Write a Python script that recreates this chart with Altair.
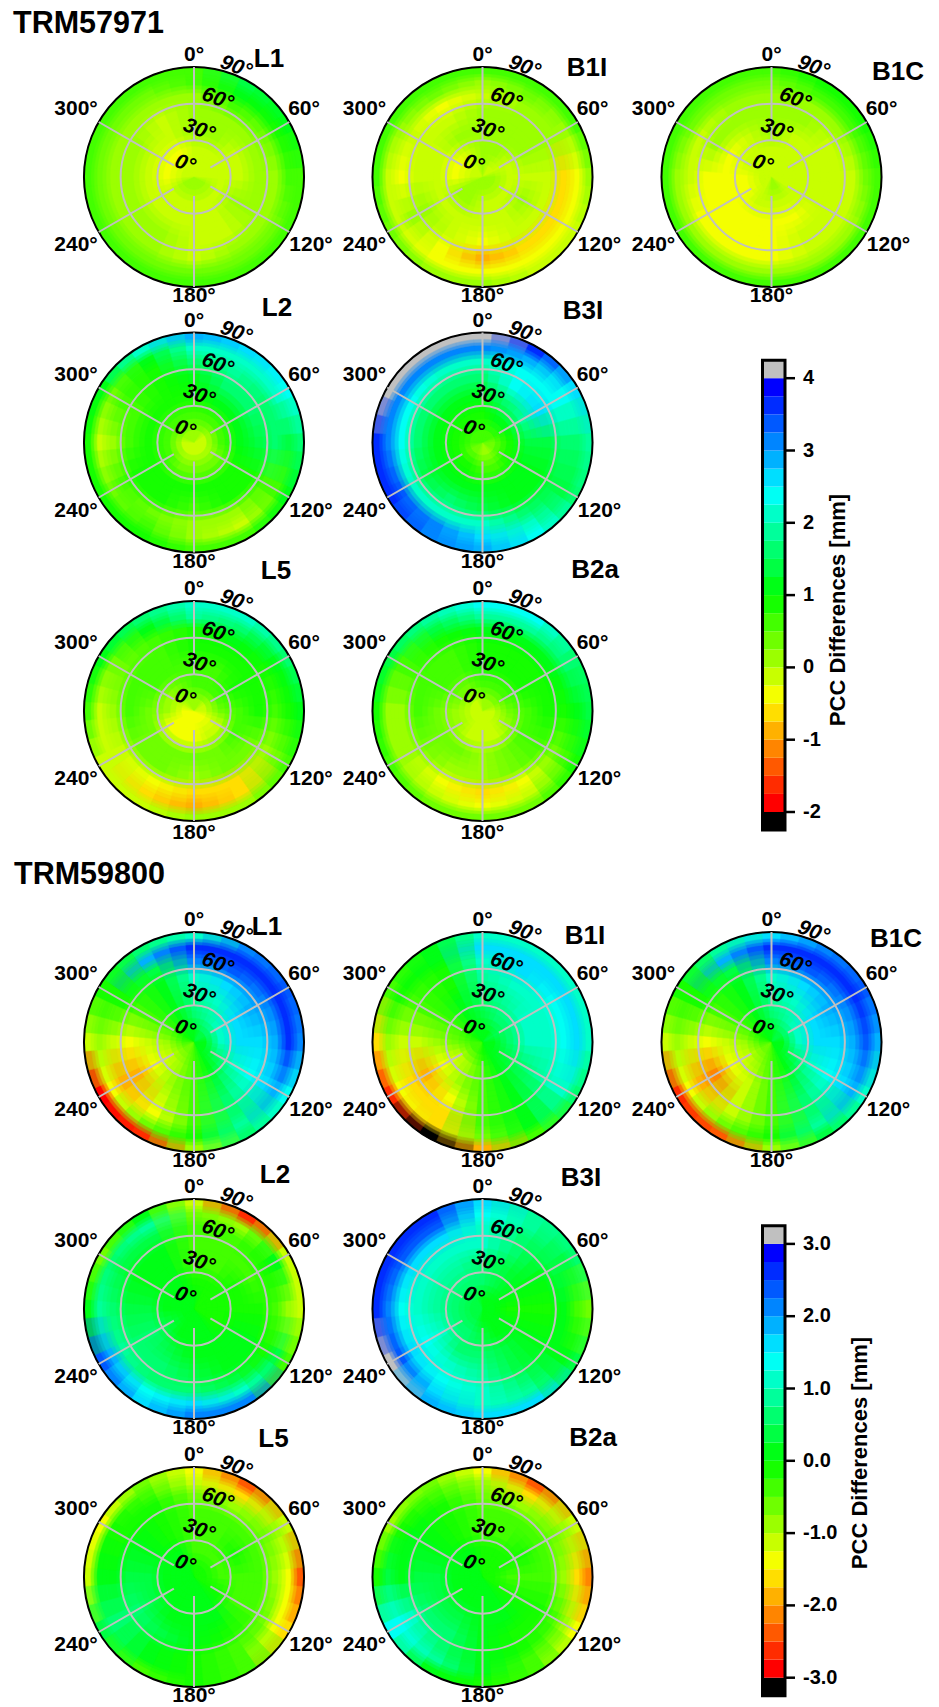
import math
import altair as alt
import pandas as pd

AZ = list(range(0, 360, 30))
RINGS = [0, 15, 30, 45, 60, 72, 82, 90]

A_L1 = [[-.1,-.1,-.1,-.1,.1,.1,.1,.1,.1,-.1,-.1,-.1],
[-.1,-.1,-.1,-.1,-.1,-.1,-.1,-.1,-.1,-.3,-.3,-.3],
[.1,.1,-.1,-.1,.1,-.1,-.1,-.1,-.1,-.1,-.1,-.1],
[.1,.2,.1,.1,.1,-.1,-.1,.1,.1,.1,.1,-.1],
[.2,.5,.3,.2,.2,.1,-.1,.1,.1,.1,.1,.1],
[.5,1.0,.8,.5,.4,.4,.3,.3,.3,.3,.4,.4],
[.7,1.3,1.0,.7,.6,.6,.7,.6,.5,.5,.5,.6]]
A_B1I = [[.1,-.1,-.1,.0,.1,.2,.2,.2,.2,-.1,-.1,-.1],
[.1,.1,-.1,-.1,-.1,-.1,-.1,.1,.1,-.3,-.3,-.1],
[.2,.2,.1,-.1,.0,-.1,-.1,-.1,-.1,-.1,-.1,.1],
[.1,.1,.1,-.2,-.1,-.2,-.3,-.1,.1,-.1,-.1,-.1],
[-.2,.1,.1,-.6,-.7,-.7,-.8,-.5,.1,-.4,-.1,-.3],
[.2,.3,.2,-.5,-.5,-.5,-.5,-.3,-.1,-.2,.2,.3],
[.5,.7,.6,.2,-.1,-.1,0,.2,.4,.5,.7,.7]]
A_B1C = [[-.1,-.1,-.1,-.1,-.1,.1,.1,-.1,-.1,-.1,-.1,-.1],
[-.1,-.1,-.1,-.1,-.1,-.1,-.1,-.1,-.3,-.3,-.1,-.1],
[.1,-.1,-.1,-.1,-.1,-.3,-.3,-.3,-.4,-.4,-.3,-.1],
[.1,.1,-.1,-.1,-.1,-.1,-.3,-.3,-.4,-.3,.1,.1],
[.1,.2,.1,-.1,-.1,-.2,-.3,-.4,-.3,-.2,-.1,.1],
[.3,.5,.5,.3,.2,.1,.1,.1,.1,.2,.3,.4],
[.6,.9,.8,.6,.5,.5,.5,.5,.5,.6,.7,.7]]
A_L2 = [[.1,.1,-.1,-.1,-.1,-.1,-.1,-.1,-.1,-.1,.1,.1],
[.7,.7,.7,.6,.4,.4,.3,.4,.5,.5,.6,.7],
[.9,1.2,1.2,1.0,.9,.8,.8,.8,.9,.8,.8,.9],
[1.1,1.5,1.5,1.4,.9,.8,.7,.8,.8,.7,.7,.8],
[1.5,1.8,1.7,1.5,.7,.0,.1,.4,.5,.0,.5,.8],
[2.2,2.2,2.0,1.4,.6,-.2,.2,.5,.4,-.1,.4,1.2],
[2.9,2.7,2.4,1.6,1.0,.6,.7,.8,.9,.9,1.2,2.0]]
A_B3I = [[.6,.5,.5,.4,.3,.2,.2,.3,.4,.5,.6,.7],
[.9,1.1,1.1,.9,.8,.7,.7,.8,.8,.8,.9,.9],
[1.2,1.7,1.8,1.3,1.0,1.0,1.0,1.0,1.0,1.0,1.1,1.2],
[1.6,2.4,2.6,1.4,1.2,1.2,1.4,1.5,1.4,1.5,1.6,1.6],
[2.1,2.4,2.3,1.5,1.3,1.7,2.0,2.1,2.2,2.3,2.3,2.1],
[3.0,2.8,2.4,1.5,1.4,2.0,2.6,3.0,3.3,3.0,3.1,3.2],
[4.3,3.6,2.7,1.8,1.7,2.4,2.9,3.1,3.5,3.5,4.0,4.3]]
A_L5 = [[.1,.1,-.1,-.1,-.4,-.5,-.5,-.5,-.5,-.3,-.1,.1],
[.5,.5,.6,.4,-.1,-.2,-.4,-.5,-.3,.0,.2,.4],
[.7,.7,.8,.7,.5,.4,.3,.3,.4,.4,.5,.6],
[.8,.8,.8,.8,.4,.3,.1,.3,.4,.5,.6,.7],
[.8,1.0,.9,.7,.0,-.6,-.7,-.5,-.1,.1,.3,.6],
[1.8,1.6,1.2,.8,.3,-.6,-.8,-.6,-.2,-.1,.3,1.2],
[2.0,2.1,1.6,1.0,.7,.2,.0,-.1,-.1,.6,1.2,1.7]]
A_B2A = [[.1,.1,.0,-.1,-.1,-.1,-.1,-.1,-.1,-.1,-.1,-.1],
[.5,.6,.6,.4,.1,-.1,-.1,-.1,.1,.1,.3,.4],
[.8,.8,.9,.7,.5,.3,.2,.3,.3,.4,.5,.6],
[.9,.9,.9,.9,.5,.3,.1,.2,.3,.5,.5,.7],
[1.2,1.2,1.0,.9,.3,-.4,-.6,-.3,.1,.1,.5,.8],
[1.9,1.9,1.5,1.0,.6,-.2,-.4,-.2,.2,.1,.5,1.4],
[2.3,2.3,1.7,1.3,.8,.4,.4,.3,.5,.9,1.4,1.9]]

B_L1 = [[.2,.3,.4,.2,.1,0,-.4,-.6,-.6,-.5,-.2,0],
[.6,.9,1.1,1.0,.6,.2,-.4,-.8,-1.1,-.8,-.4,.1],
[.8,1.2,1.7,1.7,1.1,.4,-.4,-1.0,-1.4,-1.1,-.4,.1],
[1.2,1.6,1.8,1.6,1.4,.6,-.3,-1.2,-2.0,-1.4,-.5,.1],
[2.0,2.4,2.1,1.8,1.6,.7,-.3,-1.3,-2.0,-1.2,-.2,.3],
[2.5,2.7,2.7,2.5,1.9,.9,-.1,-.7,-1.3,-.8,-.1,1.8],
[1.2,2.2,2.4,2.0,1.3,.5,-.9,-2.6,-2.9,-1.2,-.2,.6]]
B_B1I = [[.1,.2,.3,.2,.1,0,-.2,-.4,-.5,-.4,-.2,0],
[.4,.5,.7,.6,.4,.1,-.3,-.8,-1.1,-.7,-.3,.1],
[.6,.8,1.0,1.0,.6,0,-.4,-1.0,-1.4,-.9,-.3,.0],
[.8,1.1,1.2,1.2,.9,0,-.5,-1.4,-1.9,-1.1,-.3,-.1],
[1.2,1.5,1.4,1.4,1.0,.1,-.5,-1.6,-1.7,-1.1,-.3,-.1],
[1.6,1.6,1.5,1.6,1.0,.2,-.7,-1.6,-1.5,-1.0,-.2,.2],
[1.0,1.2,1.2,1.0,.6,-.3,-1.8,-3.2,-2.6,-1.6,-.5,0]]
B_B1C = [[.2,.3,.4,.2,.1,0,-.4,-.6,-.6,-.4,-.2,0],
[.6,.9,1.1,1.1,.6,.2,-.5,-.9,-1.1,-.9,-.5,.1],
[.8,1.2,1.6,1.7,1.2,.4,-.5,-1.1,-1.5,-1.2,-.5,.1],
[1.2,1.6,1.8,1.7,1.4,.6,-.4,-1.2,-2.1,-1.5,-.5,.1],
[2.1,2.3,2.1,1.9,1.7,.7,-.3,-1.2,-2.0,-1.2,-.2,.3],
[2.6,2.6,2.6,2.3,1.8,.8,-.2,-.7,-1.3,-.9,-.1,1.8],
[1.6,2.1,2.3,1.9,1.2,.4,-.9,-2.3,-2.6,-1.1,-.2,.8]]
B_L2 = [[.1,-.1,-.1,-.1,-.1,.1,.1,.1,.1,.1,.1,.1],
[-.2,-.2,-.1,-.1,-.1,.1,.1,.2,.3,.2,.1,.1],
[-.3,-.3,-.2,-.1,.1,.1,.2,.3,.5,.4,.1,.1],
[-.4,-.4,-.3,-.1,.1,.2,.3,.6,.6,.4,.2,.1],
[-.4,-.4,-.2,-.3,-.1,.4,.6,.7,.8,.5,.3,.3],
[-.7,-1.0,.1,-.9,.3,1.0,1.7,1.4,1.9,.8,.6,.8],
[-1.2,-2.6,-1.2,-1.2,-.3,2.0,2.0,1.5,2.3,.2,-.6,.2]]
B_B3I = [[.2,.2,.1,.1,.1,.1,.2,.3,.3,.3,.3,.3],
[.5,.3,.1,-.1,.1,.2,.4,.5,.6,.6,.5,.5],
[.7,.4,.1,-.2,.1,.3,.5,.7,1.0,.9,.8,.8],
[1.0,.5,.2,-.1,.1,.4,.8,1.2,1.4,1.2,1.2,1.1],
[1.2,.7,.3,.1,.1,.6,1.2,1.4,1.7,1.4,1.5,1.6],
[1.4,.9,.4,-.5,.1,.9,1.2,1.7,2.4,2.0,2.3,2.3],
[1.5,.8,.5,-.6,.3,1.7,1.5,1.9,3.1,2.5,2.6,2.7]]
B_L5 = [[-.1,-.1,-.1,-.1,-.1,.1,.1,.1,.1,.1,.1,.1],
[-.3,-.3,-.3,-.3,-.1,.1,.1,.2,.2,.1,.1,.1],
[-.4,-.3,-.2,-.4,-.3,.1,.1,.2,.4,.3,.1,-.1],
[-.5,-.4,-.3,-.4,-.3,-.1,.1,.3,.6,.4,.1,-.1],
[-.6,-.9,-.7,-.8,-.7,-.3,-.1,.2,.7,.2,-.1,-.1],
[-1.1,-1.7,-.8,-1.5,-1.3,-.4,-.2,.2,.7,.2,-.2,-.4],
[-1.4,-2.5,-1.2,-2.4,-1.6,-.3,-.2,-.3,.3,-1.2,-1.3,-.6]]
B_B2A = [[-.1,-.1,-.1,-.1,-.1,.1,.1,.1,.1,.1,.1,.1],
[-.2,-.2,-.2,-.3,-.1,.1,.1,.2,.2,.1,.1,.1],
[-.3,-.3,-.2,-.3,-.2,.1,.1,.3,.4,.3,.1,-.1],
[-.5,-.4,-.3,-.4,-.2,-.1,.2,.5,.7,.3,.1,-.1],
[-.6,-.8,-.7,-.8,-.5,-.2,.1,.5,1.0,.2,.1,-.2],
[-1.0,-1.6,-.8,-1.6,-1.0,-.3,.1,.8,1.3,.3,-.2,-.5],
[-1.3,-2.3,-1.1,-2.2,-1.4,-.5,-.2,.2,1.4,-.1,-1.0,-.7]]

PALETTE = ["#FF0000","#FF2C00","#FF5900","#FF8500","#FFB100","#FFDE00","#F4FF00","#C8FF00",
           "#9BFF00","#6FFF00","#43FF00","#16FF00","#00FF16","#00FF43","#00FF6F","#00FF9B",
           "#00FFC8","#00FFF4","#00DEFF","#00B1FF","#0085FF","#0059FF","#002CFF","#0000FF"]
FULL_RANGE = ["#000000"] + PALETTE + ["#C0C0C0"]

# name, page centre x, page centre y, label offset, values
PANELS_A = [("L1",194,177,75,-119,A_L1),("B1I",482.5,177,104.5,-110,A_B1I),("B1C",771.5,177,126.5,-106,A_B1C),
            ("L2",194,442.5,83,-136,A_L2),("B3I",482.5,442.5,100.5,-133,A_B3I),
            ("L5",194,711,82,-141,A_L5),("B2a",482.5,711,112.5,-142,A_B2A)]
PANELS_B = [("L1",194,1042,73,-116,B_L1),("B1I",482.5,1042,102.5,-107,B_B1I),("B1C",771.5,1042,124.5,-104,B_B1C),
            ("L2",194,1309,81,-135,B_L2),("B3I",482.5,1309,98.5,-132,B_B3I),
            ("L5",194,1577,79.5,-139,B_L5),("B2a",482.5,1577,110.5,-140,B_B2A)]

R_PX = 110
W, H = 923, 1699
X = alt.X("x:Q", scale=alt.Scale(domain=[8, 8 + W], range=[0, W]), axis=None)
Y = alt.Y("y:Q", scale=alt.Scale(domain=[8, 8 + H], range=[0, H]), axis=None)
X2 = alt.X2("x2:Q")
Y2 = alt.Y2("y2:Q")
THETA = alt.Theta("t:Q", scale=alt.Scale(type="linear", domain=[0, 360], range=[0, 2 * math.pi]), stack=None)
THETA2 = alt.Theta2("t2:Q")
RADIUS = alt.Radius("r:Q", scale=alt.Scale(type="linear", domain=[0, 90], range=[0, R_PX]))
RADIUS2 = alt.Radius2("r2:Q")


def thresholds(low):
    return [low + 0.25 * i for i in range(25)]


# Each read cell is drawn several times, slightly displaced, at equal weight: softens cell edges.
PASSES = [(a, b) for a in (0, -10, 10) for b in (0, -1, 1)]


def edge(i, shift):
    if i == 0 or i == len(RINGS) - 1:
        return RINGS[i]
    return RINGS[i] + shift * 0.3 * min(RINGS[i] - RINGS[i - 1], RINGS[i + 1] - RINGS[i])


def cells(panels):
    rows = []
    for k, (da, dr) in enumerate(PASSES):
        for _, cx, cy, _, _, vals in panels:
            for i, ring in enumerate(vals):
                for j, v in enumerate(ring):
                    rows.append(dict(x=cx, y=cy, t=AZ[j] - 15 + da, t2=AZ[j] + 15 + da,
                                     r=edge(i, dr), r2=edge(i + 1, dr), v=v, o=1 / (k + 1)))
    return pd.DataFrame(rows)


def cell_layer(panels, low):
    scale = alt.Scale(type="threshold", domain=thresholds(low), range=FULL_RANGE)
    return alt.Chart(cells(panels)).mark_arc(strokeWidth=0.5).encode(
        x=X, y=Y, theta=THETA, theta2=THETA2, radius=RADIUS, radius2=RADIUS2,
        color=alt.Color("v:Q", scale=scale, legend=None),
        stroke=alt.Stroke("v:Q", scale=scale, legend=None),
        opacity=alt.Opacity("o:Q", scale=None),
    )


ALL = PANELS_A + PANELS_B
circles, spokes, deg, ital, names = [], [], [], [], []
for name, cx, cy, nx, ny, _ in ALL:
    names.append(dict(x=cx + nx, y=cy + ny + 1, s=name))
    for z, col in ((30, "grid"), (60, "grid"), (90, "rim")):
        circles.append(dict(x=cx, y=cy, t=0, t2=360, r=0, r2=z, k=col))
    for az, inner in ((0, 30), (60, 15.5), (120, 15.5), (180, 15.5), (240, 19), (300, 19)):
        s, c = math.sin(math.radians(az)), math.cos(math.radians(az))
        f = R_PX / 90
        spokes.append(dict(x=cx + inner * f * s, y=cy - inner * f * c,
                           x2=cx + 90 * f * s, y2=cy - 90 * f * c))
    bottom = 119 if cy == 1577 else (122 if cy == 711 else 119)
    for txt, dx, dy in (("0°", 0, -122), ("60°", 110, -68), ("120°", 117, 68), ("180°", 0, bottom),
                        ("240°", -118, 68), ("300°", -118, -68)):
        deg.append(dict(x=cx + dx, y=cy + dy, s=txt))
    for txt, dx, dy in (("0°", -9, -13), ("30°", 5, -47), ("60°", 23.5, -78), ("90°", 42, -110)):
        ital.append(dict(x=cx + dx, y=cy + dy, s=txt))

FONT = "Liberation Sans"


def text_layer(rows, size, **kw):
    return alt.Chart(pd.DataFrame(rows)).mark_text(font=FONT, fontWeight="bold", fontSize=size,
                                                   baseline="middle", **kw).encode(x=X, y=Y, text="s:N")


circle_df = pd.DataFrame(circles)
grid = alt.Chart(circle_df[circle_df.k == "grid"]).mark_arc(fillOpacity=0, stroke="#C0C0C0", strokeWidth=2).encode(
    x=X, y=Y, theta=THETA, theta2=THETA2, radius=RADIUS, radius2=RADIUS2)
rim = alt.Chart(circle_df[circle_df.k == "rim"]).mark_arc(fillOpacity=0, stroke="#000000", strokeWidth=2).encode(
    x=X, y=Y, theta=THETA, theta2=THETA2, radius=RADIUS, radius2=RADIUS2)
spoke_layer = alt.Chart(pd.DataFrame(spokes)).mark_rule(color="#C0C0C0", strokeWidth=2).encode(x=X, y=Y, x2=X2, y2=Y2)

# colour bars
BAR_X0, BAR_X1 = 762.5, 785
PX_PER_MM = 72.3


def colorbar(low, y_low, labels, title_x, title_y):
    edges = thresholds(low)
    rows = []
    scale = alt.Scale(type="threshold", domain=edges, range=FULL_RANGE)
    for i in range(26):
        lo = low - 0.25 + 0.25 * i
        rows.append(dict(x=BAR_X0, x2=BAR_X1, y=y_low - (lo - low) * PX_PER_MM,
                         y2=y_low - (lo + 0.25 - low) * PX_PER_MM, v=lo + 0.125))
    df = pd.DataFrame(rows)
    bands = alt.Chart(df).mark_rect().encode(x=X, x2=X2, y=Y, y2=Y2,
                                             color=alt.Color("v:Q", scale=scale, legend=None))
    frame = alt.Chart(pd.DataFrame([dict(x=BAR_X0, x2=BAR_X1, y=df.y.max(), y2=df.y2.min())])).mark_rect(
        fillOpacity=0, stroke="#000000", strokeWidth=3).encode(x=X, x2=X2, y=Y, y2=Y2)
    ticks = pd.DataFrame([dict(x=BAR_X1, x2=795, y=y_low - (v - low) * PX_PER_MM, s=s) for v, s in labels])
    tick = alt.Chart(ticks).mark_rule(color="#000000", strokeWidth=2.5).encode(x=X, x2=X2, y=Y)
    lab = text_layer([dict(x=803, y=r.y, s=r.s) for r in ticks.itertuples()], 20, align="left")
    title = text_layer([dict(x=title_x, y=title_y, s="PCC Differences [mm]")], 22, angle=270, align="center")
    return [bands, frame, tick, lab, title]


layers = [cell_layer(PANELS_A, -2), cell_layer(PANELS_B, -3), rim, grid, spoke_layer,
          text_layer(deg, 21, align="center"),
          text_layer(ital, 21, align="center", angle=20, fontStyle="italic"),
          text_layer(names, 26, align="center"),
          text_layer([dict(x=13, y=24, s="TRM57971"), dict(x=14, y=875, s="TRM59800")], 30.5, align="left")]
layers += colorbar(-2, 812, [(4, "4"), (3, "3"), (2, "2"), (1, "1"), (0, "0"), (-1, "-1"), (-2, "-2")], 838, 610)
layers += colorbar(-3, 1677.7, [(3, "3.0"), (2, "2.0"), (1, "1.0"), (0, "0.0"), (-1, "-1.0"), (-2, "-2.0"), (-3, "-3.0")], 860, 1453)

chart = alt.layer(*layers).resolve_scale(color="independent", stroke="independent").properties(
    width=W, height=H, padding=0, autosize="none", background="#FFFFFF"
).configure_view(stroke=None)

chart.save("out.html", embed_options={"renderer": "svg", "actions": False})
